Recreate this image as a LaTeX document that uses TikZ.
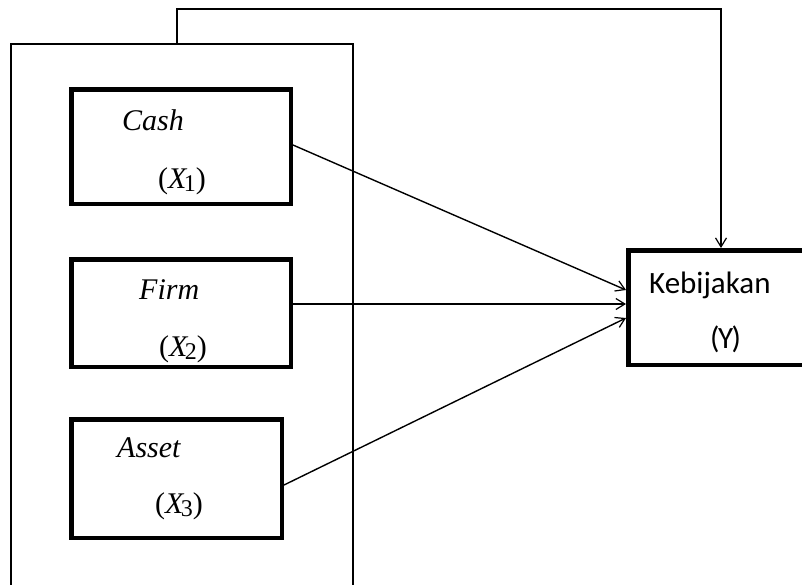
\documentclass[tikz,border=0pt]{standalone}
\usepackage{fontspec}
\setmainfont{Liberation Serif}
\newfontfamily\calib{Carlito}
\usetikzlibrary{arrows.meta}
\tikzset{
  varbox/.style={draw, line width=4.5pt, inner sep=0pt, minimum width=219.5pt, minimum height=114.5pt},
  frame/.style={draw, line width=1.5pt, inner sep=0pt},
  conn/.style={line width=1.4pt, -{Straight Barb[length=9pt,width=11pt,line width=1.2pt]}},
  lbl/.style={anchor=base west, inner sep=0pt, font=\fontsize{30}{36}\selectfont},
  ylbl/.style={anchor=base west, inner sep=0pt, font=\calib\fontsize{31}{37}\selectfont}
}
\newcommand{\xsub}[1]{(\textit{X}\kern-0.12em\raisebox{-0.12em}{\fontsize{24}{28}\selectfont #1})}
\begin{document}
\begin{tikzpicture}[x=1pt,y=-1pt]
\useasboundingbox (0,0) rectangle (802,584);
\clip (0,0) rectangle (802,584);
% outer frame (open at bottom)
\node[frame, minimum width=342pt, minimum height=580pt] (outer) at (182,334) {};
% variable boxes
\node[varbox] (cash) at (181,146.5) {};
\node[varbox, minimum height=107.5pt] (firm) at (181,313) {};
\node[varbox, minimum width=210.5pt, minimum height=118.5pt] (asset) at (176.5,478.5) {};
\node[varbox, minimum width=209.5pt] (Y) at (733,307.5) {};
% labels
\node[lbl] (tcash) at (122,130) {\textit{Cash}};
\node[lbl] (tx1) at (158,188) {\xsub{1}};
\node[lbl] (tfirm) at (139,299) {\textit{Firm}};
\node[lbl] (tx2) at (159,356) {\xsub{2}};
\node[lbl] (tasset) at (117,457) {\textit{Asset}};
\node[lbl] (tx3) at (155,513) {\xsub{3}};
\node[ylbl] (tkeb) at (649,293) {Kebijakan};
\node[ylbl] (ty) at (710,348) {(\kern-0.05em Y\kern-0.05em)};
% connectors
\coordinate (topL) at (177,9);
\coordinate (topR) at (721,9);
\draw[conn] ([xshift=-5pt]outer.north) -- (topL) -- (topR) -- ([xshift=-12pt]Y.north);
\draw[conn] ([yshift=1.5pt]cash.east) -- ([yshift=17.5pt]Y.west);
\draw[conn] ([yshift=9pt]firm.east) -- ([yshift=3.5pt]Y.west);
\draw[conn] ([yshift=-6.5pt]asset.east) -- ([yshift=-10.5pt]Y.west);
\end{tikzpicture}
\end{document}
